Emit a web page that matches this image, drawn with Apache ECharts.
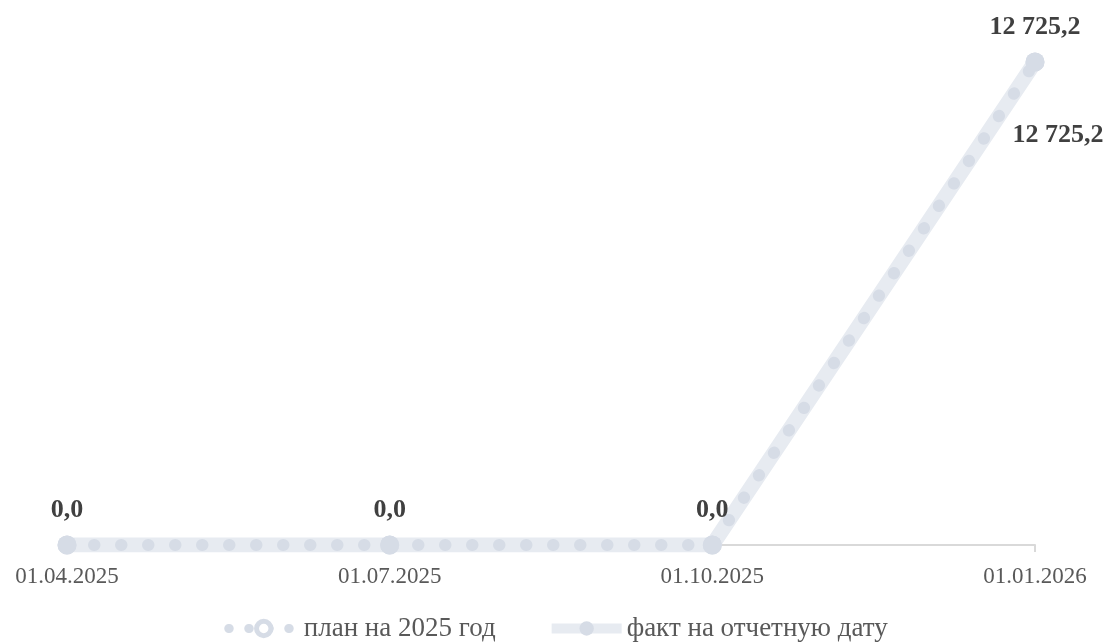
<!DOCTYPE html>
<html>
<head>
<meta charset="utf-8">
<style>html,body{margin:0;padding:0;background:#fff}#c{width:1112px;height:642px}</style>
<script src="https://cdn.jsdelivr.net/npm/echarts@6/dist/echarts.min.js"></script>
</head>
<body>
<div id="c"></div>
<script>
const categories = ['01.04.2025', '01.07.2025', '01.10.2025', '01.01.2026'];
const planValues = [0, 0, 0, 12725.2];
const factValues = [0, 0, 0, 12725.2];
const seriesNames = ['план на 2025 год', 'факт на отчетную дату'];

const fmt = v => {
  const s = v.toFixed(1).split('.');
  return s[0].replace(/\B(?=(\d{3})+(?!\d))/g, ' ') + ',' + s[1];
};
const FONT = '"Liberation Serif", "Times New Roman", serif';
const chart = echarts.init(document.getElementById('c'));
const labelStyle = {color: '#404040', fontWeight: 'bold', fontSize: 26, fontFamily: FONT};

chart.setOption({
  animation: false,
  grid: {left: 67, right: 77, top: 62, bottom: 97},
  xAxis: {
    type: 'category', data: categories, boundaryGap: false,
    axisLine: {lineStyle: {color: '#d9d9d9', width: 2}},
    axisTick: {show: true, length: 7, lineStyle: {color: '#d9d9d9', width: 2}},
    axisLabel: {color: '#595959', fontSize: 23, fontFamily: FONT, margin: 20}
  },
  yAxis: {type: 'value', min: 0, max: 12725.2, show: false, splitLine: {show: false}},
  legend: {
    bottom: -5, left: 'center', itemWidth: 70, itemHeight: 18, itemGap: 51,
    textStyle: {color: '#595959', fontSize: 27, fontFamily: FONT},
    data: [
      {name: seriesNames[0], itemStyle: {color: '#fff', borderColor: '#d6dce6', borderWidth: 5},
       lineStyle: {color: '#d6dce6', width: 9, type: [0.5, 19.5], cap: 'round'}},
      {name: seriesNames[1], itemStyle: {color: '#d6dce6'},
       lineStyle: {color: '#e7ebf1', width: 10}}
    ]
  },
  series: [
    {
      name: seriesNames[1], type: 'line', z: 2,
      data: factValues.map((v, i) => ({
        value: v,
        label: i === factValues.length - 1 ? {show: true, position: 'bottom', offset: [23, 46], formatter: p => fmt(p.value), ...labelStyle} : {show: false}
      })),
      symbol: 'circle', symbolSize: 19,
      itemStyle: {color: '#d6dce6'},
      lineStyle: {color: '#e7ebf1', width: 15}
    },
    {
      name: seriesNames[0], type: 'line', z: 3,
      data: planValues,
      symbol: 'circle', symbolSize: 19,
      itemStyle: {color: '#d6dce6'},
      lineStyle: {color: '#d6dce6', width: 12, type: [0.5, 26.5], cap: 'round'},
      label: {show: true, position: 'top', distance: 12, formatter: p => fmt(p.value), ...labelStyle}
    }
  ]
});
</script>
</body>
</html>
